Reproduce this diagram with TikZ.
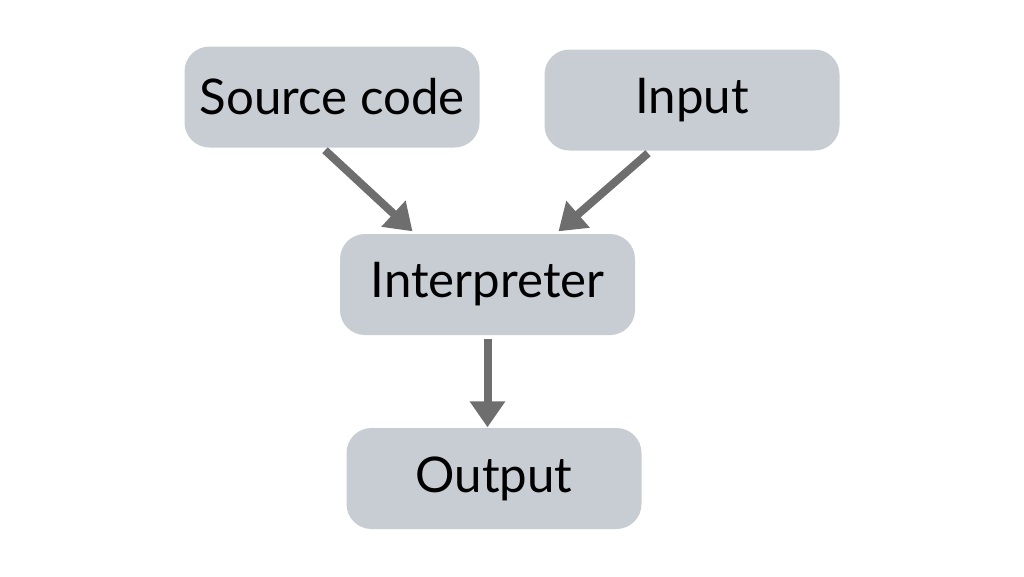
\documentclass[tikz,border=0pt]{standalone}
\usepackage{fontspec}
\setmainfont{Lato}
\usetikzlibrary{positioning,arrows.meta}
\definecolor{boxgray}{RGB}{200,205,212}
\definecolor{arrgray}{RGB}{110,110,110}
\tikzset{
  box/.style={fill=boxgray, rounded corners=2.5mm, minimum width=2.95cm, minimum height=1.01cm, inner sep=0pt, font=\fontsize{14}{17}\selectfont},
  flow/.style={-{Triangle[length=2.6mm,width=3.4mm]}, line width=0.8mm, draw=arrgray}
}
\begin{document}
\begin{tikzpicture}
	\useasboundingbox[fill=white] (0,0) rectangle (10.24,5.76);
	\node[box] (src) at (3.32,4.79) {Source code};
	\node[box] (inp) at (6.92,4.76) {Input};
	\node[box] (interp) at (4.875,2.915) {Interpreter};
	\node[box] (out) at (4.94,0.975) {Output};
	
	\draw[flow] ([xshift=-0.7mm,yshift=-0.2mm]src.south) -- ([xshift=-7.5mm,yshift=0.2mm]interp.north);
	\draw[flow] ([xshift=-4.4mm,yshift=-0.2mm]inp.south) -- ([xshift=7.1mm,yshift=0.2mm]interp.north);
	\draw[flow] ([yshift=-0.3mm]interp.south) -- (interp.south |- out.north);
\end{tikzpicture}
\end{document}
